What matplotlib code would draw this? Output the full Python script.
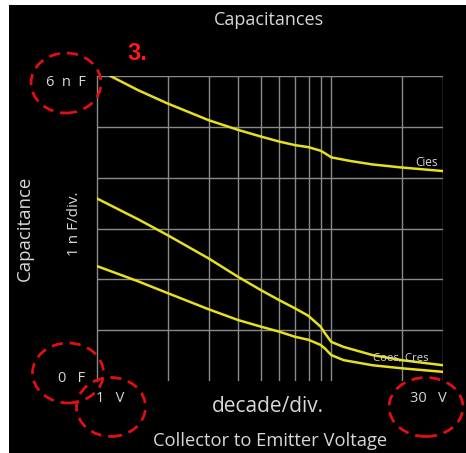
import numpy as np
import matplotlib
matplotlib.use("Agg")
import matplotlib.pyplot as plt
from matplotlib.patches import Ellipse, Rectangle

# Данные (В, нФ)
v_cies = [1.14, 1.5, 2, 3, 4, 5, 6, 7, 8, 9, 9.4, 10, 12, 15, 20, 30]
c_cies = [6.0, 5.72, 5.46, 5.13, 4.94, 4.81, 4.71, 4.64, 4.60, 4.53, 4.48, 4.40, 4.33, 4.26, 4.20, 4.13]

v_coes = [1, 1.5, 2, 3, 4, 5, 6, 7, 8, 9, 9.4, 10, 11.3, 15, 20, 30]
c_coes = [3.59, 3.18, 2.87, 2.41, 2.05, 1.79, 1.59, 1.43, 1.28, 1.07, 0.94, 0.77, 0.67, 0.51, 0.41, 0.31]

v_cres = [1, 1.5, 2, 3, 4, 5, 6, 7, 8, 9, 9.4, 10, 11.3, 15, 20, 30]
c_cres = [2.26, 1.96, 1.73, 1.41, 1.20, 1.07, 0.97, 0.87, 0.81, 0.71, 0.64, 0.51, 0.41, 0.31, 0.25, 0.18]

x_grid = [2, 3, 4, 5, 6, 7, 8, 9, 10, 20]
y_grid = [1, 2, 3, 4, 5]

W, H = 466, 453
fig = plt.figure(figsize=(W / 100, H / 100), dpi=100, facecolor='white')
plt.rcParams['font.family'] = ['Open Sans', 'DejaVu Sans']


def fx(px):
    return px / W


def fy(py):
    return 1 - py / H


# чёрный фон (слева и сверху узкая белая полоса)
fig.patches.append(Rectangle((fx(9), 0), 1 - fx(9), fy(5), transform=fig.transFigure,
                             facecolor='black', edgecolor='none', zorder=-10))

ax = fig.add_axes([fx(97), fy(381), fx(443) - fx(97), fy(76) - fy(381)])
ax.set_zorder(1)
ax.set_facecolor('black')
ax.set_xscale('log')
ax.set_xlim(1, 30)
ax.set_ylim(0, 6)
for s in ax.spines.values():
    s.set_visible(False)
ax.set_xticks([])
ax.set_yticks([])
ax.minorticks_off()

grid_col = '#8a8a8a'
for xv in x_grid + [30]:
    ax.axvline(xv, color=grid_col, lw=1.0)
for yv in y_grid + [6]:
    ax.axhline(yv, color=grid_col, lw=1.0)
ax.plot([1, 1], [0, 6], color=grid_col, lw=1.0, clip_on=False)

yellow = '#e6e01e'
ax.plot(v_cies, c_cies, color=yellow, lw=1.8)
ax.plot(v_coes, c_coes, color=yellow, lw=1.8)
ax.plot(v_cres, c_cres, color=yellow, lw=1.8)

txt = '#d8d8d8'
fig.text(fx(269), fy(20), 'Capacitances', color=txt, fontsize=13, ha='center', va='center')
fig.text(fx(137), fy(53), '3.', color='#ff1a1a', fontsize=17, fontweight='bold',
         family='Liberation Sans', ha='center', va='center')
fig.text(fx(438), fy(162), 'Cies', color=txt, fontsize=8.5, ha='right', va='center')
fig.text(fx(401), fy(359), 'Coes, Cres', color=txt, fontsize=8.2, ha='center', va='center')

fig.text(fx(66), fy(83), '6  n  F', color=txt, fontsize=10.5, ha='center', va='center')
fig.text(fx(72), fy(378), '0   F', color=txt, fontsize=10.5, ha='center', va='center')
fig.text(fx(110), fy(398), '1   V', color=txt, fontsize=10.5, ha='center', va='center')
fig.text(fx(428), fy(398), '30   V', color=txt, fontsize=10.5, ha='center', va='center')

fig.text(fx(25), fy(228), 'Capacitance', color=txt, fontsize=13.4, rotation=90, ha='center', va='center')
fig.text(fx(74), fy(224), '1 n F/div.', color=txt, fontsize=11, rotation=90, ha='center', va='center')
fig.text(fx(268), fy(407), 'decade/div.', color=txt, fontsize=15, ha='center', va='center')
fig.text(fx(270), fy(441), 'Collector to Emitter Voltage', color=txt, fontsize=13.2, ha='center', va='center')

# красные пунктирные овалы
for cx, cy, w, h in [(66, 83, 70, 60), (68, 373, 71, 60), (111, 407, 69, 59), (426, 407, 74, 59)]:
    fig.patches.append(Ellipse((fx(cx), fy(cy)), w / W, h / H, transform=fig.transFigure,
                               fill=False, edgecolor='#e01010', lw=2.0, linestyle=(0, (4, 2.5)),
                               zorder=5))

fig.savefig('out.png', dpi=100, facecolor=fig.get_facecolor())
